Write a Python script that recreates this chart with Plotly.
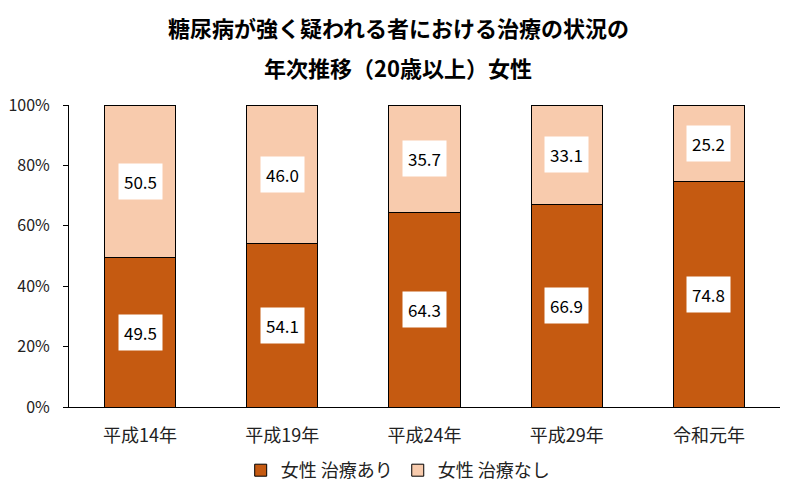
import plotly.graph_objects as go

# data
years = ["平成14年", "平成19年", "平成24年", "平成29年", "令和元年"]
with_treatment = [49.5, 54.1, 64.3, 66.9, 74.8]
without_treatment = [50.5, 46.0, 35.7, 33.1, 25.2]
y_ticks = [0, 20, 40, 60, 80, 100]
y_tick_labels = ["0%", "20%", "40%", "60%", "80%", "100%"]

font_jp = "Noto Sans CJK JP, Meiryo, sans-serif"

fig = go.Figure()
fig.add_trace(go.Bar(x=years, y=with_treatment, name="女性 治療あり",
                     marker=dict(color="#C55A11", line=dict(color="black", width=1))))
fig.add_trace(go.Bar(x=years, y=without_treatment, name="女性 治療なし",
                     marker=dict(color="#F8CBAD", line=dict(color="black", width=1))))

# value labels in white boxes, centred in each segment
for yr, a, b in zip(years, with_treatment, without_treatment):
    total = a + b
    fig.add_annotation(x=yr, y=a / total * 50, text=f"{a:.1f}", showarrow=False,
                       bgcolor="white", borderpad=5,
                       font=dict(family=font_jp, size=17, color="black"))
    fig.add_annotation(x=yr, y=(a + total) / total * 50, text=f"{b:.1f}", showarrow=False,
                       bgcolor="white", borderpad=5,
                       font=dict(family=font_jp, size=17, color="black"))

# two-line title, placed in pixels above the plot area (plot top at 105px, height 302px)
for yy, txt in [(27, "<b>糖尿病が強く疑われる者における治療の状況の</b>"),
                (67, "<b>年次推移（20歳以上）女性</b>")]:
    fig.add_annotation(x=0.463, xref="paper", y=1 + (105 - yy) / 302, yref="paper",
                       yanchor="middle", text=txt, showarrow=False,
                       font=dict(family=font_jp, size=22, color="black"))

# page body has an 8px margin, so margins are shifted to compensate
fig.update_layout(
    barmode="stack", barnorm="percent", bargap=0.5,
    width=794, height=499,
    margin=dict(l=61, r=22, t=97, b=100, autoexpand=False),
    plot_bgcolor="white", paper_bgcolor="white",
    font=dict(family=font_jp, size=16, color="#222"),
    showlegend=True,
    legend=dict(orientation="h", x=0.463, xanchor="center", y=-0.149, yanchor="top",
                font=dict(size=18), traceorder="normal", itemwidth=30),
    yaxis=dict(range=[0, 100], tickvals=y_ticks, ticktext=y_tick_labels,
               showgrid=False, showline=True, linecolor="black", linewidth=1,
               ticks="outside", ticklen=5, tickcolor="black", automargin=False,
               ticklabelstandoff=10),
    xaxis=dict(showline=True, linecolor="black", linewidth=1, showgrid=False,
               tickfont=dict(size=18), automargin=False, ticklabelstandoff=12),
)

fig.write_html("out.html")
